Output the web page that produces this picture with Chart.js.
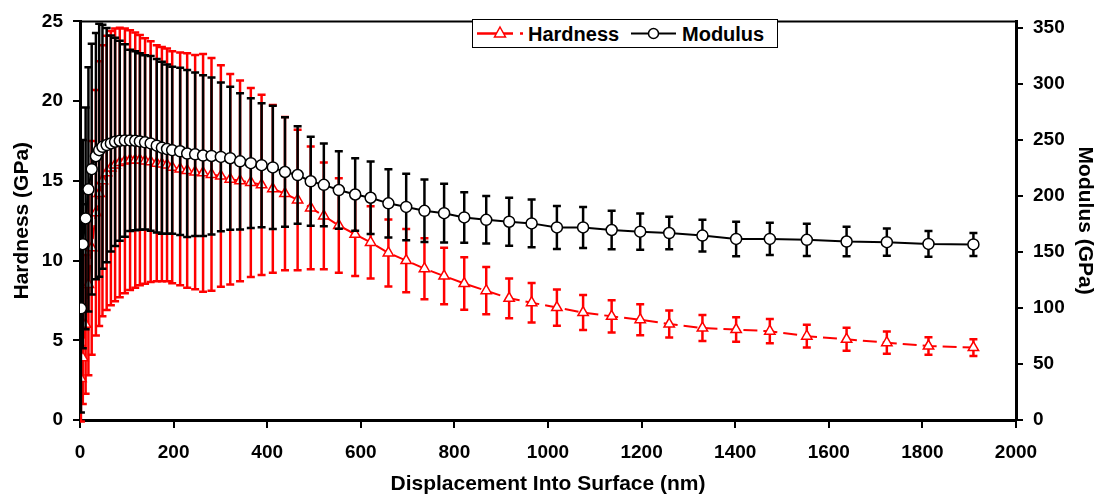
<!DOCTYPE html>
<html>
<head>
<meta charset="utf-8">
<script src="https://cdn.jsdelivr.net/npm/chart.js@4.4.3/dist/chart.umd.min.js"></script>
<style>
  html, body { margin: 0; padding: 0; background: #fff; }
  #wrap { position: relative; width: 1099px; height: 497px; }
  #legend {
    position: absolute; left: 472px; top: 19px; width: 306px; height: 29px;
    box-sizing: border-box; border: 1px solid #000; background: #fff;
    font: bold 20px "Liberation Sans", Arial, sans-serif; color: #000;
  }
  #legend .txt { position: absolute; top: 2px; line-height: 24px; white-space: nowrap; }
  #legend svg { position: absolute; top: 0; }
</style>
</head>
<body>
<div id="wrap">
  <canvas id="chart" width="1099" height="497"></canvas>
  <div id="legend">
    <svg width="60" height="27" style="left:2px">
      <line x1="2" y1="13.5" x2="48" y2="13.5" stroke="#ff0000" stroke-width="2.5" stroke-dasharray="36 7 3 20"/>
      <polygon points="25,7 30.5,17 19.5,17" fill="#fff" stroke="#ff0000" stroke-width="1.5"/>
    </svg>
    <span class="txt" style="left:55px">Hardness</span>
    <svg width="52" height="27" style="left:156px">
      <line x1="2" y1="13.5" x2="47" y2="13.5" stroke="#000" stroke-width="2"/>
      <circle cx="24.5" cy="13.5" r="5" fill="#fff" stroke="#000" stroke-width="1.5"/>
    </svg>
    <span class="txt" style="left:209px">Modulus</span>
  </div>
</div>
<script>
// displacement into surface (nm), shared by both series
const depth = [2, 6, 12, 18, 25, 34, 41, 48, 57, 66, 75, 85, 96, 107, 118, 128, 139, 151, 164, 175,
  186, 197, 214, 229, 246, 263, 281, 301, 321, 342, 365, 388, 412, 438, 465, 493, 521, 553, 588, 621,
  659, 697, 736, 778, 821, 868, 917, 965, 1019, 1075, 1136, 1197, 1259, 1330, 1402, 1474, 1553, 1638, 1724, 1813, 1909];

const hardness = [2.6, 3.9, 6.0, 8.5, 10.8, 13.0, 14.2, 15.0, 15.5, 15.8, 16.0, 16.15, 16.25, 16.3, 16.3, 16.3, 16.25, 16.2, 16.1, 16.05,
  16.0, 15.85, 15.75, 15.65, 15.55, 15.5, 15.4, 15.3, 15.1, 15.0, 14.9, 14.75, 14.5, 14.2, 13.8, 13.3, 12.8, 12.2, 11.65, 11.14,
  10.48, 10.0, 9.49, 9.03, 8.56, 8.11, 7.63, 7.36, 7.05, 6.74, 6.5, 6.29, 6.02, 5.77, 5.67, 5.57, 5.26, 5.06, 4.85, 4.64, 4.54];

const hardnessSd = [2.7, 2.9, 4.35, 5.7, 6.7, 7.7, 8.3, 8.5, 8.6, 8.6, 8.55, 8.45, 8.3, 8.15, 8.0, 7.85, 7.7, 7.55, 7.4, 7.35,
  7.3, 7.27, 7.3, 7.35, 7.35, 7.45, 7.3, 6.95, 6.6, 6.3, 5.93, 5.65, 5.26, 4.81, 4.41, 3.85, 3.35, 2.96, 2.62, 2.27,
  2.1, 1.98, 1.91, 1.77, 1.65, 1.48, 1.25, 1.24, 1.14, 1.1, 1.01, 0.97, 0.85, 0.82, 0.77, 0.76, 0.72, 0.72, 0.7, 0.55, 0.52];

const modulus = [99.7, 157, 180, 206, 224, 235.6, 241, 244, 245.5, 247, 248.5, 249.4, 249.7, 249.7, 249.4, 248.8, 248, 247, 245, 243.2,
  242, 241, 240, 238, 237.3, 236.2, 235.8, 235, 233.8, 231, 229.4, 227.6, 225.6, 221.5, 218.8, 213.2, 210, 205.4, 201.4, 198.5,
  193.5, 190.3, 186.8, 184.7, 180.9, 178.8, 177.1, 175.6, 172, 172, 169.7, 168.2, 167, 164.7, 161.7, 161.7, 160.9, 159.4, 158.8, 157.3, 156.8];

const modulusSd = [93, 93, 99, 109, 112, 110, 113, 109, 104.5, 96.5, 93, 89.4, 86, 81, 80, 78.8, 77.8, 78, 77.5, 76.8,
  75.6, 74.6, 74.7, 74.6, 73, 71.8, 70.1, 66.5, 63.8, 60.8, 58, 55.4, 55, 49, 43.5, 39.8, 37, 34.6, 32.4, 32.4,
  30.5, 29.7, 27.9, 26.2, 22.6, 21.2, 21.4, 21.4, 19.2, 18.3, 17.1, 16.2, 14.5, 14.1, 15.4, 14.4, 14.4, 13.2, 12.2, 11.5, 10.3];

const xRange = [0, 2000];
const hardnessRange = [0, 25];
const modulusRange = [0, 356];

const FONT = "'Liberation Sans', Arial, sans-serif";

function toPoints(values) {
  return depth.map((x, i) => ({ x, y: values[i] }));
}

// vertical error bars with caps, drawn just before each dataset's line
const errorBarPlugin = {
  id: "errorBars",
  beforeDatasetDraw(chart, args) {
    const dataset = chart.data.datasets[args.index];
    if (!dataset.errors) {
      return;
    }
    const xScale = chart.scales[args.meta.xAxisID];
    const yScale = chart.scales[args.meta.yAxisID];
    const area = chart.chartArea;
    const ctx = chart.ctx;
    ctx.save();
    ctx.beginPath();
    ctx.rect(area.left, area.top - 2, area.right - area.left, area.bottom - area.top + 6);
    ctx.clip();
    ctx.strokeStyle = dataset.errorColor;
    ctx.lineWidth = 2.5;
    ctx.setLineDash([]);
    dataset.data.forEach((point, i) => {
      const x = xScale.getPixelForValue(point.x);
      const top = yScale.getPixelForValue(point.y + dataset.errors[i]);
      const bottom = yScale.getPixelForValue(point.y - dataset.errors[i]);
      ctx.beginPath();
      ctx.moveTo(x, top);
      ctx.lineTo(x, bottom);
      ctx.moveTo(x - 4, top);
      ctx.lineTo(x + 4, top);
      ctx.moveTo(x - 4, bottom);
      ctx.lineTo(x + 4, bottom);
      ctx.stroke();
    });
    ctx.restore();
  },
};

// thin frame line across the top of the plot
const topFramePlugin = {
  id: "topFrame",
  afterDraw(chart) {
    const { ctx, chartArea } = chart;
    ctx.save();
    ctx.strokeStyle = "#000";
    ctx.lineWidth = 2;
    ctx.beginPath();
    ctx.moveTo(chartArea.left, chartArea.top);
    ctx.lineTo(chartArea.right, chartArea.top);
    ctx.stroke();
    ctx.restore();
  },
};

const tickFont = { family: FONT, size: 19, weight: "bold" };
const titleFont = { family: FONT, size: 21, weight: "bold" };
const plainNumber = (value) => String(value);

new Chart(document.getElementById("chart"), {
  type: "line",
  data: {
    datasets: [
      {
        label: "Hardness",
        data: toPoints(hardness),
        errors: hardnessSd,
        errorColor: "#ff0000",
        yAxisID: "y",
        borderColor: "#ff0000",
        borderWidth: 2,
        borderDash: [14, 6],
        pointStyle: "triangle",
        pointRadius: 6,
        pointBorderWidth: 1.5,
        pointBorderColor: "#ff0000",
        pointBackgroundColor: "#ffffff",
        tension: 0,
        order: 2,
      },
      {
        label: "Modulus",
        data: toPoints(modulus),
        errors: modulusSd,
        errorColor: "#000000",
        yAxisID: "y1",
        borderColor: "#000000",
        borderWidth: 2,
        pointStyle: "circle",
        pointRadius: 5.5,
        pointBorderWidth: 1.5,
        pointBorderColor: "#000000",
        pointBackgroundColor: "#ffffff",
        tension: 0,
        order: 1,
      },
    ],
  },
  options: {
    responsive: false,
    animation: false,
    devicePixelRatio: 1,
    layout: { padding: { top: 16, left: 0, right: 0, bottom: 0 } },
    plugins: {
      legend: { display: false },
      tooltip: { enabled: false },
    },
    scales: {
      x: {
        type: "linear",
        position: "bottom",
        min: xRange[0],
        max: xRange[1],
        ticks: { stepSize: 200, color: "#000", font: tickFont, padding: 13, maxRotation: 0, callback: plainNumber },
        grid: { drawOnChartArea: false, drawTicks: true, tickLength: 8, color: "#000", lineWidth: 2 },
        border: { display: true, color: "#000", width: 3 },
        title: { display: true, text: "Displacement Into Surface (nm)", color: "#000", font: titleFont, padding: { top: -2, bottom: 0 } },
        afterFit(scale) { scale.height = 77; },
      },
      y: {
        type: "linear",
        position: "left",
        min: hardnessRange[0],
        max: hardnessRange[1],
        ticks: { stepSize: 5, color: "#000", font: tickFont, padding: 10, callback: plainNumber },
        grid: { drawOnChartArea: false, drawTicks: true, tickLength: 7, color: "#000", lineWidth: 2 },
        border: { display: true, color: "#000", width: 3 },
        title: { display: true, text: "Hardness (GPa)", color: "#000", font: titleFont, padding: { top: 10, bottom: 0 } },
        afterFit(scale) { scale.width = 80; },
      },
      y1: {
        type: "linear",
        position: "right",
        min: modulusRange[0],
        max: modulusRange[1],
        ticks: { stepSize: 50, color: "#000", font: tickFont, padding: 10, includeBounds: false, callback: plainNumber },
        grid: { drawOnChartArea: false, drawTicks: true, tickLength: 7, color: "#000", lineWidth: 2 },
        border: { display: true, color: "#000", width: 3 },
        title: { display: true, text: "Modulus (GPa)", color: "#000", font: titleFont, padding: { top: 2, bottom: 0 } },
        afterFit(scale) { scale.width = 83; },
      },
    },
  },
  plugins: [errorBarPlugin, topFramePlugin],
});
</script>
</body>
</html>
